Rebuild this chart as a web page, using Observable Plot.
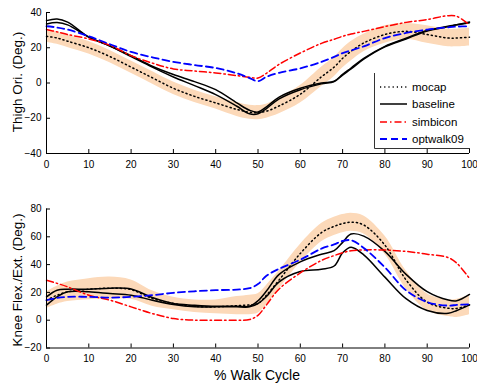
<!DOCTYPE html>
<html>
<head>
<meta charset="utf-8">
<script src="https://cdn.jsdelivr.net/npm/d3@7"></script>
<script src="https://cdn.jsdelivr.net/npm/@observablehq/plot@0.6"></script>
<style>
  body { margin: 0; background: white; }
  #wrap { position: relative; width: 477px; height: 389px; background: white; font-family: "Liberation Sans", Arial, sans-serif; overflow: hidden; }
  .panel { position: absolute; left: 0; }
  .ylab { position: absolute; font-size: 13.5px; white-space: nowrap; transform: translate(-50%, -50%) rotate(-90deg); }
  #xlab { position: absolute; font-size: 14px; white-space: nowrap; transform: translate(-50%, -50%); }
  #legend { position: absolute; left: 0; top: 0; }
</style>
</head>
<body>
<div id="wrap"></div>
<script>
// ---------- data ----------
const xs = [0, 2.5, 5, 10, 15, 20, 25, 30, 35, 40, 45, 48, 50, 52, 55, 60, 65, 68, 70, 72, 75, 80, 85, 90, 95, 97, 100];
const xTicks = [0, 10, 20, 30, 40, 50, 60, 70, 80, 90, 100];
const seriesNames = ["mocap", "baseline", "simbicon", "optwalk09"];

// Thigh orientation (deg)
const thighTicks = [-40, -20, 0, 20, 40];
const thighMocap = [26.5, 25.5, 23.7, 20, 15, 9, 3, -3, -7.6, -11.3, -15, -16.6, -16.8, -16, -13, -6.4, 3.5, 9, 14, 18, 22.7, 27.5, 29.3, 27.5, 25.5, 25.5, 26];
const thighStd = [3.5, 3.5, 3.5, 3.5, 3.5, 3.5, 3.5, 3.5, 3.5, 3.5, 4, 4, 4, 4, 4.5, 5, 5.5, 5.5, 5.5, 5.5, 5, 5, 4.5, 5, 5, 5, 5];
const thighBaseA = [35.4, 36.3, 34.5, 26, 21, 15.5, 9.5, 4.8, 0.8, -3.8, -11.3, -15.5, -16.5, -13.5, -8, -3, 0, 1, 4.9, 8.5, 14, 20.8, 25.4, 29.8, 32.2, 33, 34.6];
const thighBaseB = [33.5, 34.3, 33, 26, 21, 15, 9, 3.4, -1.5, -6.6, -13.2, -17.5, -17.5, -14.5, -9, -3.8, -0.5, 0.8, 4.5, 8, 13.5, 20.5, 25, 29.5, 32, 33, 34.2];
const thighSimb = [30.3, 29, 27.5, 25, 21.4, 15.5, 11.3, 8, 6.8, 5.7, 4.2, 3.2, 2.8, 5.5, 10.6, 17, 22.5, 24.8, 26.5, 27.8, 29.3, 32, 34.4, 36, 38.2, 37.8, 33];
const thighOpt = [32.2, 31.5, 30.3, 26.5, 22, 17.6, 14.6, 12, 10.2, 8.5, 5.5, 2.8, 1, 3.5, 5.8, 8.3, 12, 14.8, 17, 18.5, 20.8, 25.5, 28.4, 30.3, 31.6, 32, 32.2];

// Knee flexion/extension (deg)
const kneeTicks = [-20, 0, 20, 40, 60, 80];
const kneeMocap = [14.4, 18, 20.4, 22.3, 23, 22, 15.6, 12, 10, 9.6, 10.5, 11, 12, 18, 29, 48, 63, 67.5, 69.5, 70.5, 68.5, 54, 29, 13, 8.6, 8.5, 11];
const kneeStd = [6, 6.5, 7, 7.5, 8, 7, 5.5, 4.5, 4.5, 5, 6.5, 7, 7, 7, 6.5, 6.5, 6.5, 6.5, 6.5, 6.5, 6.5, 6.5, 6.5, 6, 6, 6.5, 7];
const kneeBaseA = [16.8, 21.6, 22.3, 22.3, 23, 22.5, 16.3, 12, 10.8, 10, 10, 10, 14, 21, 33, 42, 47.5, 50, 56, 62, 60.5, 49.5, 33, 20.5, 14.5, 14, 18.5];
const kneeBaseB = [10.8, 16.8, 20.4, 20.4, 19.2, 18, 14.4, 11.3, 9.6, 9.6, 9.6, 9.6, 12, 17, 27.6, 35, 36.7, 39, 48.5, 52.5, 47, 31, 15.5, 7, 5, 7, 11];
const kneeSimb = [28.8, 26.5, 24, 18, 14.4, 9.6, 4.8, 1.2, 0, 0, 0, 0.5, 3.5, 11, 22.5, 34, 43, 46.5, 48.5, 50, 50.5, 50.5, 49.5, 47.5, 45, 41, 30];
const kneeOpt = [14.4, 16, 16.8, 16.8, 16.3, 16.8, 18, 19.7, 20.8, 21.6, 22, 23, 26, 32, 37, 43.5, 51.5, 54.5, 57, 57.5, 52, 38, 21.5, 13, 10.5, 11, 11.5];

// ---------- drawing ----------
const bandColor = "#fcd9b9";
const curve = "catmull-rom";
const styles = {
  mocap: {stroke: "black", strokeWidth: 1.5, strokeDasharray: "1.2,3"},
  baseline: {stroke: "black", strokeWidth: 1.5},
  simbicon: {stroke: "red", strokeWidth: 1.5, strokeDasharray: "7,3,1.5,3"},
  optwalk09: {stroke: "blue", strokeWidth: 1.8, strokeDasharray: "7,4"}
};

function panel(d) {
  const rows = xs.map((x, i) => ({
    x, m: d.mocap[i], lo: d.mocap[i] - d.std[i], hi: d.mocap[i] + d.std[i],
    a: d.baseA[i], b: d.baseB[i], s: d.simb[i], o: d.opt[i]
  }));
  return Plot.plot({
    width: 477, height: d.height,
    marginLeft: 46, marginRight: 8, marginTop: d.marginTop, marginBottom: d.marginBottom,
    x: {domain: [0, 100]},
    y: {domain: [d.ticks[0], d.ticks[d.ticks.length - 1]]},
    style: {fontFamily: "'Liberation Sans', Arial, sans-serif", fontSize: "10px", color: "black", background: "white", overflow: "visible"},
    marks: [
      Plot.areaY(rows, {x: "x", y1: "lo", y2: "hi", fill: bandColor, curve}),
      Plot.lineY(rows, {x: "x", y: "m", curve, ...styles.mocap}),
      Plot.lineY(rows, {x: "x", y: "a", curve, ...styles.baseline}),
      Plot.lineY(rows, {x: "x", y: "b", curve, ...styles.baseline}),
      Plot.lineY(rows, {x: "x", y: "s", curve, ...styles.simbicon}),
      Plot.lineY(rows, {x: "x", y: "o", curve, ...styles.optwalk09}),
      Plot.ruleX([0], {stroke: "black", strokeWidth: 1}),
      Plot.ruleY([d.ticks[0]], {stroke: "black", strokeWidth: 1}),
      Plot.axisX(xTicks, {tickSize: -4, tickPadding: 11, label: null, stroke: "black"}),
      Plot.axisY(d.ticks, {tickSize: -4, tickPadding: 9, label: null, stroke: "black"})
    ]
  });
}

const wrap = document.getElementById("wrap");

const top1 = panel({mocap: thighMocap, std: thighStd, baseA: thighBaseA, baseB: thighBaseB, simb: thighSimb, opt: thighOpt,
  ticks: thighTicks, height: 172, marginTop: 12, marginBottom: 19});
top1.classList.add("panel"); top1.style.top = "0px";
wrap.appendChild(top1);

const bot = panel({mocap: kneeMocap, std: kneeStd, baseA: kneeBaseA, baseB: kneeBaseB, simb: kneeSimb, opt: kneeOpt,
  ticks: kneeTicks, height: 176, marginTop: 18.5, marginBottom: 18.5});
bot.classList.add("panel"); bot.style.top = "190px";
wrap.appendChild(bot);

// axis titles
function addText(cls, id, txt, left, top) {
  const el = document.createElement("div");
  if (cls) el.className = cls;
  if (id) el.id = id;
  el.textContent = txt;
  el.style.left = left + "px";
  el.style.top = top + "px";
  wrap.appendChild(el);
}
addText("ylab", null, "Thigh Ori. (Deg.)", 17, 82);
addText("ylab", null, "Knee Flex./Ext. (Deg.)", 17, 280);
addText(null, "xlab", "% Walk Cycle", 257, 375);

// legend
const lg = d3.select(wrap).append("svg").attr("id", "legend").attr("width", 477).attr("height", 389);
lg.append("line").attr("x1", 374.5).attr("x2", 374.5).attr("y1", 73).attr("y2", 148.5).attr("stroke", "#333").attr("stroke-width", 1);
lg.append("line").attr("x1", 374.5).attr("x2", 470).attr("y1", 148.5).attr("y2", 148.5).attr("stroke", "#333").attr("stroke-width", 1);
const ly = [87, 104, 122, 139];
seriesNames.forEach((name, i) => {
  const s = styles[name];
  lg.append("line").attr("x1", 380).attr("x2", 407).attr("y1", ly[i]).attr("y2", ly[i])
    .attr("stroke", s.stroke).attr("stroke-width", s.strokeWidth).attr("stroke-dasharray", s.strokeDasharray || null);
  lg.append("text").attr("x", 412).attr("y", ly[i]).attr("dy", "0.35em")
    .attr("font-family", "'Liberation Sans', Arial, sans-serif").attr("font-size", "11.5px").text(name);
});
</script>
</body>
</html>
